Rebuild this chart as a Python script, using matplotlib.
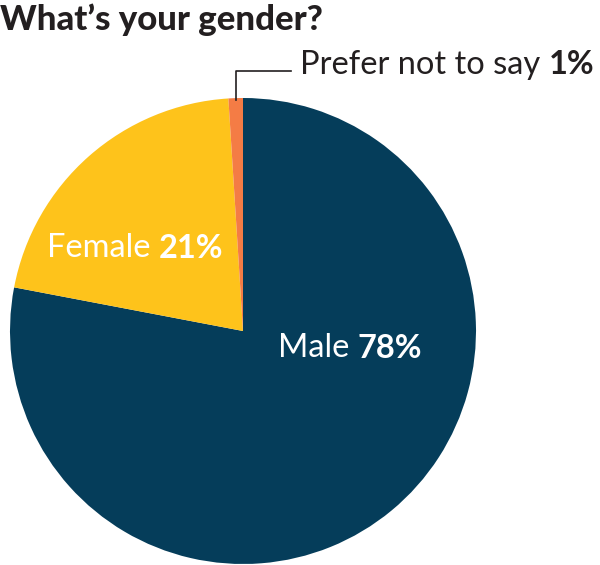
import matplotlib
matplotlib.use("Agg")
import matplotlib.pyplot as plt

labels = ["Male", "Female", "Prefer not to say"]
values = [78, 21, 1]
colors = ["#053D5A", "#FEC31B", "#F47C45"]

plt.rcParams["font.family"] = ["Lato", "DejaVu Sans"]

W, H = 600, 565
fig = plt.figure(figsize=(W / 100, H / 100), dpi=100)
fig.patch.set_facecolor("white")

# pie centre (243, 331) px from top-left, radius 233 px
cx, cy, r = 243, 331, 233
ax = fig.add_axes([(cx - r) / W, (H - cy - r) / H, 2 * r / W, 2 * r / H])
ax.pie(values, colors=colors, startangle=90, counterclock=False,
       radius=1, wedgeprops=dict(linewidth=0))
ax.set_xlim(-1, 1)
ax.set_ylim(-1, 1)
ax.set_aspect("equal")
ax.axis("off")

fig.text(0 / W, 1 - 20 / H, "What\u2019s your gender?", fontsize=25,
         fontweight="black", color="#231F20", va="center", ha="left")


def two_part(x, y, reg, bold, color, size, anchor="left"):
    t = fig.text(0, 1 - y / H, reg, fontsize=size, color=color,
                 va="center", ha="left")
    b = fig.text(0, 1 - y / H, bold, fontsize=size, color=color,
                 fontweight="bold", va="center", ha="left")
    fig.canvas.draw()
    w1 = t.get_window_extent().width
    w2 = b.get_window_extent().width
    x0 = x - (w1 + w2) / 2 if anchor == "center" else x
    t.set_x(x0 / W)
    b.set_x((x0 + w1) / W)


two_part(350, 348, "Male ", f"{values[0]}%", "white", 23.5, "center")
two_part(135, 248, "Female ", f"{values[1]}%", "white", 23.5, "center")
two_part(300, 65, "Prefer not to say ", f"{values[2]}%", "#231F20", 23.5)

# leader line for the small slice
fig.add_artist(plt.Line2D([236 / W, 236 / W, 291 / W],
                          [1 - 100 / H, 1 - 71 / H, 1 - 71 / H],
                          color="#231F20", linewidth=1.2))

fig.savefig("out.png", dpi=100)
